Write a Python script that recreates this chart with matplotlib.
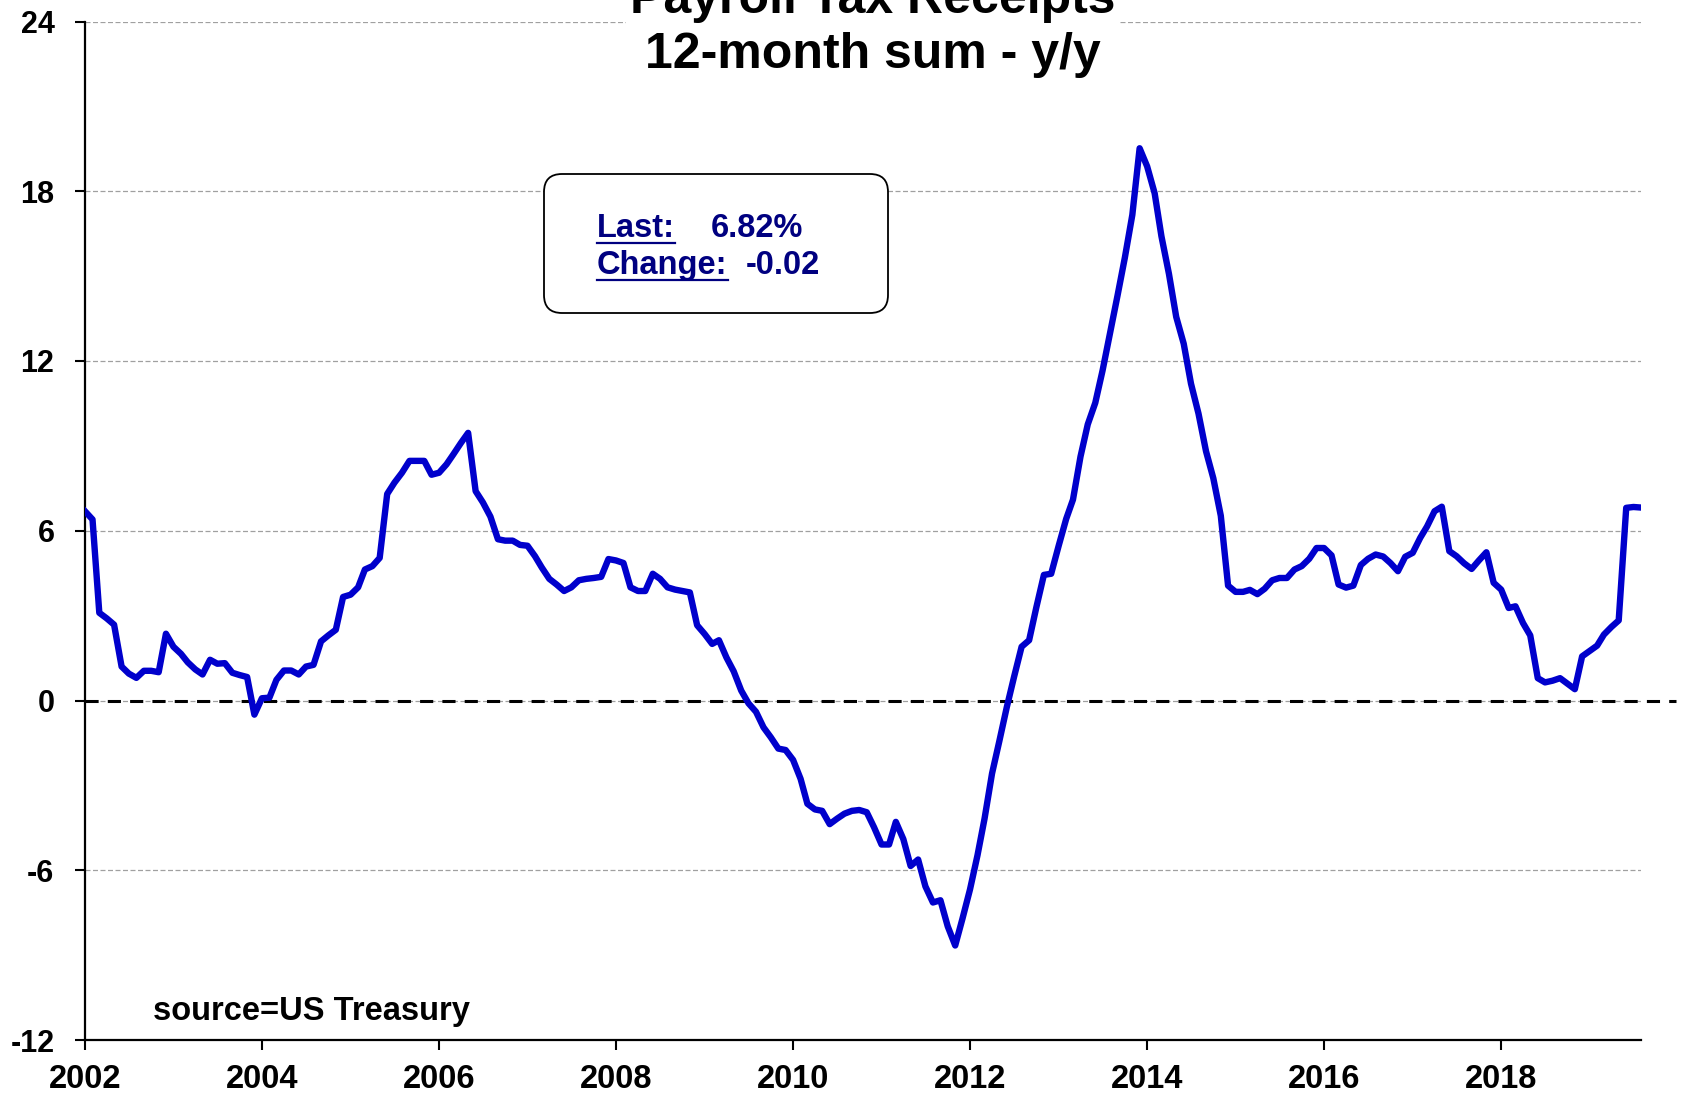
import numpy as np
import pandas as pd
import matplotlib
matplotlib.use("Agg")
import matplotlib.pyplot as plt
import matplotlib.dates as mdates
from matplotlib.patches import FancyBboxPatch
from matplotlib.lines import Line2D
from matplotlib.transforms import IdentityTransform

plt.rcParams['font.family'] = ['Liberation Sans', 'DejaVu Sans']
plt.rcParams['font.weight'] = 'bold'
plt.rcParams['axes.unicode_minus'] = False

# payroll tax receipts, 12-month sum, y/y % change, monthly from Jan 2002
payroll_yy = [
    6.69, 6.40, 3.10, 2.90, 2.68, 1.20, 0.95, 0.80, 1.05, 1.05, 1.00, 2.36,
    1.90, 1.65, 1.35, 1.10, 0.92, 1.44, 1.30, 1.32, 0.98, 0.90, 0.83, -0.50,
    0.08, 0.10, 0.73, 1.06, 1.06, 0.92, 1.20, 1.26, 2.09, 2.30, 2.50, 3.66,
    3.74, 4.00, 4.63, 4.75, 5.04, 7.30, 7.70, 8.05, 8.47, 8.47, 8.47, 7.98,
    8.05, 8.35, 8.70, 9.10, 9.46, 7.40, 7.00, 6.50, 5.70, 5.65, 5.65, 5.50,
    5.47, 5.10, 4.70, 4.30, 4.10, 3.87, 4.00, 4.25, 4.30, 4.33, 4.37, 5.00,
    4.95, 4.86, 4.00, 3.87, 3.87, 4.48, 4.30, 4.00, 3.92, 3.87, 3.82, 2.66,
    2.35, 2.00, 2.13, 1.52, 1.03, 0.35, -0.10, -0.40, -0.95, -1.30, -1.70, -1.75,
    -2.10, -2.77, -3.65, -3.85, -3.90, -4.37, -4.18, -4.00, -3.90, -3.87, -3.95, -4.48,
    -5.09, -5.09, -4.29, -4.90, -5.85, -5.62, -6.57, -7.14, -7.06, -7.98, -8.66, -7.71,
    -6.68, -5.47, -4.18, -2.58, -1.44, -0.23, 0.84, 1.90, 2.13, 3.30, 4.44, 4.48,
    5.47, 6.42, 7.10, 8.62, 9.76, 10.52, 11.66, 12.99, 14.32, 15.65, 17.17, 19.52,
    18.88, 17.93, 16.41, 15.08, 13.56, 12.61, 11.20, 10.14, 8.81, 7.86, 6.53, 4.06,
    3.84, 3.84, 3.91, 3.76, 3.95, 4.25, 4.33, 4.33, 4.63, 4.75, 5.01, 5.39,
    5.39, 5.13, 4.10, 3.99, 4.06, 4.79, 5.01, 5.16, 5.09, 4.86, 4.57, 5.08,
    5.22, 5.75, 6.15, 6.69, 6.85, 5.28, 5.10, 4.85, 4.65, 4.95, 5.24, 4.16,
    3.92, 3.27, 3.33, 2.74, 2.30, 0.79, 0.64, 0.70, 0.79, 0.60, 0.40, 1.56,
    1.75, 1.94, 2.33, 2.60, 2.83, 6.81, 6.84, 6.82,
]
last_value = 6.82
last_change = -0.02
y_ticks = [-12, -6, 0, 6, 12, 18, 24]

dates = pd.date_range('2002-01-01', periods=len(payroll_yy), freq='MS')

W, H = 1685, 1095
fig = plt.figure(figsize=(W / 100, H / 100), dpi=100)
ax = fig.add_axes([85 / W, 55 / H, 1556 / W, 1018.5 / H])

ax.plot(dates, payroll_yy, color='#0000cc', lw=4.6, zorder=3, solid_joinstyle='round')
ax.axhline(0, xmax=1.0225, color='black', lw=2.2, ls=(0, (4.3, 3)), clip_on=False, zorder=2)

ax.set_xlim(dates[0], dates[-1])
ax.set_ylim(-12, 24)
ax.set_yticks(y_ticks)
ax.xaxis.set_major_locator(mdates.YearLocator(2))
ax.xaxis.set_major_formatter(mdates.DateFormatter('%Y'))
ax.grid(axis='y', color='#a0a0a0', lw=0.9, ls=(0, (4, 2)), zorder=1)

for s in ['top', 'right']:
    ax.spines[s].set_visible(False)
for s in ['left', 'bottom']:
    ax.spines[s].set_linewidth(1.6)
ax.tick_params(direction='out', length=7, width=1.5)
ax.tick_params(axis='x', labelsize=23.5, pad=10)
ax.tick_params(axis='y', labelsize=22, pad=15)

ax.text(0.0437, 0.0196, 'source=US Treasury', transform=ax.transAxes,
        fontsize=23.5, fontweight='bold', va='baseline')

# title, first line partly off the top of the image
fig.text(873 / W, 1 - 13 / H, 'Payroll Tax Receipts', ha='center', va='baseline',
         fontsize=36, fontweight='bold', bbox=dict(fc='white', ec='none', pad=3))
fig.text(873 / W, 1 - 68 / H, '12-month sum - y/y', ha='center', va='baseline',
         fontsize=36, fontweight='bold')

# info box
box = FancyBboxPatch((544, H - 313), 344, 139, boxstyle='round,pad=0,rounding_size=18',
                     transform=IdentityTransform(), fc='white', ec='black', lw=1.3, zorder=4)
fig.add_artist(box)
navy = '#000080'
t_last = fig.text(597 / W, 1 - 237 / H, 'Last:', color=navy, fontsize=23.5,
                  fontweight='bold', va='baseline', zorder=5)
fig.text(711 / W, 1 - 237 / H, f'{last_value:.2f}%', color=navy, fontsize=23.5,
         fontweight='bold', va='baseline', zorder=5)
t_chg = fig.text(597 / W, 1 - 274 / H, 'Change:', color=navy, fontsize=23.5,
                 fontweight='bold', va='baseline', zorder=5)
fig.text(746 / W, 1 - 274 / H, f'{last_change:.2f}', color=navy, fontsize=23.5,
         fontweight='bold', va='baseline', zorder=5)

fig.canvas.draw()
r = fig.canvas.get_renderer()
for t, base in [(t_last, 237), (t_chg, 274)]:
    bb = t.get_window_extent(r)
    y = H - base - 6
    fig.add_artist(Line2D([bb.x0, bb.x1], [y, y], transform=IdentityTransform(),
                          color=navy, lw=1.6, zorder=5))

fig.savefig('out.png', dpi=100)
